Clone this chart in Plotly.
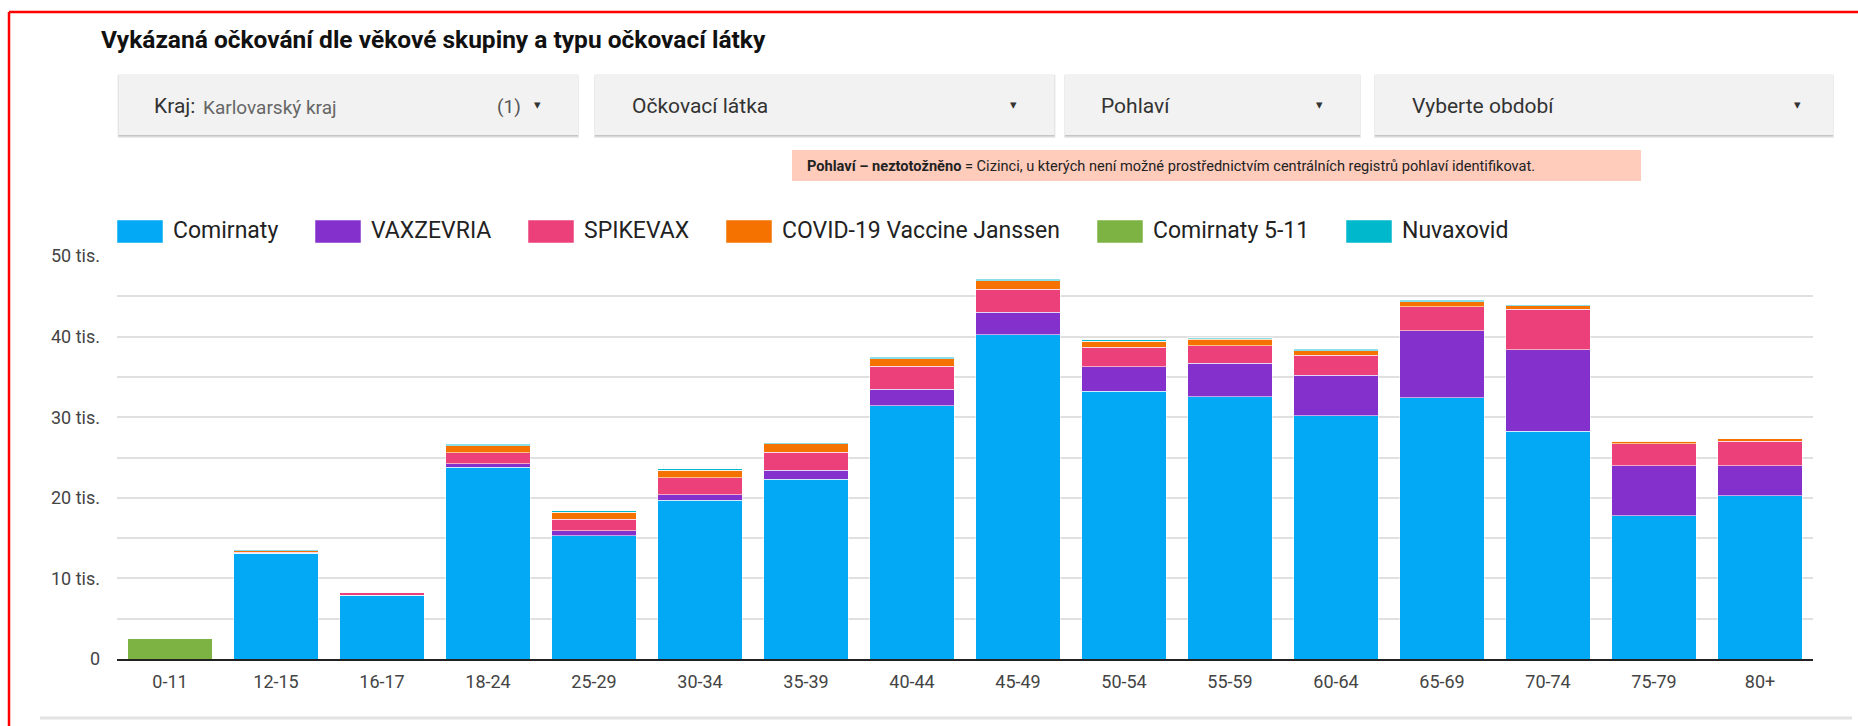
import plotly.graph_objects as go

W, H = 1858, 726

categories = ["0-11", "12-15", "16-17", "18-24", "25-29", "30-34", "35-39", "40-44",
              "45-49", "50-54", "55-59", "60-64", "65-69", "70-74", "75-79", "80+"]

comirnaty = [0, 13150, 7900, 23800, 15300, 19700, 22300, 31400, 40200, 33200, 32550, 30150, 32400, 28250, 17800, 20250]
vaxzevria = [0, 0, 0, 450, 600, 700, 1100, 2050, 2800, 3050, 4150, 5080, 8300, 10150, 6200, 3750]
spikevax = [0, 120, 300, 1350, 1450, 2100, 2250, 2900, 2850, 2450, 2150, 2470, 3000, 5000, 2700, 3000]
janssen = [0, 170, 30, 850, 850, 900, 1050, 900, 1100, 700, 800, 550, 600, 400, 300, 350]
comirnaty_5_11 = [2500, 0, 0, 0, 0, 0, 0, 0, 0, 0, 100, 0, 0, 0, 0, 0]
nuvaxovid = [0, 40, 0, 200, 170, 200, 150, 200, 150, 200, 100, 160, 200, 80, 0, 0]

series_names = ["Comirnaty", "VAXZEVRIA", "SPIKEVAX", "COVID-19 Vaccine Janssen", "Comirnaty 5-11", "Nuvaxovid"]
series_values = [comirnaty, vaxzevria, spikevax, janssen, comirnaty_5_11, nuvaxovid]
series_colors = ["#03a9f4", "#8430cc", "#ec407a", "#f57100", "#7cb342", "#00b8cc"]

y_tick_values = [0, 5000, 10000, 15000, 20000, 25000, 30000, 35000, 40000, 45000, 50000]
y_tick_labels = ["0", "", "10 tis.", "", "20 tis.", "", "30 tis.", "", "40 tis.", "", "50 tis."]

title_text = "Vykázaná očkování dle věkové skupiny a typu očkovací látky"
filters = [("Kraj:", "Karlovarský kraj", "(1)"), ("Očkovací látka", "", ""), ("Pohlaví", "", ""), ("Vyberte období", "", "")]
notice_bold = "Pohlaví – neztotožněno"
notice_rest = " = Cizinci, u kterých není možné prostřednictvím centrálních registrů pohlaví identifikovat."


def px(x):
    return x / W


def py(y):
    return 1 - y / H


fig = go.Figure()
for name, vals, col in zip(series_names, series_values, series_colors):
    fig.add_trace(go.Bar(
        x=categories, y=vals, name=name,
        marker=dict(color=col, line=dict(color="rgba(255,255,255,0.55)", width=1)),
        showlegend=False,
    ))

shapes = []
annotations = []
FONT = "Roboto"

# red outer border
shapes.append(dict(type="line", xref="paper", yref="paper", x0=px(9), x1=px(W + 5), y0=py(12), y1=py(12),
                   line=dict(color="#ff0000", width=2.5)))
shapes.append(dict(type="line", xref="paper", yref="paper", x0=px(9), x1=px(9), y0=py(12), y1=py(H + 5),
                   line=dict(color="#ff0000", width=2.5)))

# bottom separator line
shapes.append(dict(type="line", xref="paper", yref="paper", x0=px(40), x1=px(1852), y0=py(718), y1=py(718),
                   line=dict(color="#e2e2e2", width=3)))

# title
annotations.append(dict(xref="paper", yref="paper", x=px(99), y=py(39), xanchor="left", yanchor="middle",
                        text="<b>" + title_text + "</b>", showarrow=False,
                        font=dict(family=FONT, size=24.5, color="#111111")))

# dropdown filter boxes
boxes = [(118.5, 578), (595, 1054.5), (1065, 1360), (1375, 1833)]
box_y0, box_y1 = 74, 135
text_x = [154, 632, 1101, 1412]
arrow_x = [537, 1013, 1319, 1797]
for (x0, x1), tx, ax, (lab, sub, cnt) in zip(boxes, text_x, arrow_x, filters):
    shapes.append(dict(type="rect", xref="paper", yref="paper", x0=px(x0 - 1), x1=px(x1 + 1),
                       y0=py(box_y0 + 1), y1=py(box_y1 + 3), fillcolor="rgba(0,0,0,0.08)", line=dict(width=0)))
    shapes.append(dict(type="rect", xref="paper", yref="paper", x0=px(x0), x1=px(x1),
                       y0=py(box_y0 + 1), y1=py(box_y1 + 1.5), fillcolor="rgba(0,0,0,0.16)", line=dict(width=0)))
    shapes.append(dict(type="rect", xref="paper", yref="paper", x0=px(x0), x1=px(x1),
                       y0=py(box_y0), y1=py(box_y1), fillcolor="#f2f2f2", line=dict(width=0)))
    annotations.append(dict(xref="paper", yref="paper", x=px(tx - 2), y=py(106), xanchor="left", yanchor="middle",
                            text=lab, showarrow=False, font=dict(family=FONT, size=21, color="#333333")))
    annotations.append(dict(xref="paper", yref="paper", x=px(ax), y=py(105), xanchor="center", yanchor="middle",
                            text="▾", showarrow=False, font=dict(family="DejaVu Sans", size=13, color="#333333")))
    if sub:
        annotations.append(dict(xref="paper", yref="paper", x=px(201), y=py(107), xanchor="left", yanchor="middle",
                                text=sub, showarrow=False, font=dict(family=FONT, size=19, color="#666666")))
    if cnt:
        annotations.append(dict(xref="paper", yref="paper", x=px(495), y=py(106), xanchor="left", yanchor="middle",
                                text=cnt, showarrow=False, font=dict(family=FONT, size=19, color="#555555")))

# notice box
shapes.append(dict(type="rect", xref="paper", yref="paper", x0=px(792), x1=px(1641), y0=py(150), y1=py(181),
                   fillcolor="#ffcbbb", line=dict(width=0)))
annotations.append(dict(xref="paper", yref="paper", x=px(805), y=py(166.5), xanchor="left", yanchor="middle",
                        text="<b>" + notice_bold + "</b>" + notice_rest, showarrow=False,
                        font=dict(family=FONT, size=14.6, color="#222222")))

# custom legend
legend_x = [117, 315, 528, 726, 1097, 1346]
for lx, name, col in zip(legend_x, series_names, series_colors):
    shapes.append(dict(type="rect", xref="paper", yref="paper", x0=px(lx), x1=px(lx + 46), y0=py(220), y1=py(243),
                       fillcolor=col, line=dict(color="rgba(255,255,255,0.5)", width=1)))
    annotations.append(dict(xref="paper", yref="paper", x=px(lx + 54), y=py(231), xanchor="left", yanchor="middle",
                            text=name, showarrow=False, font=dict(family=FONT, size=23, color="#222222")))

fig.update_layout(
    template="none",
    width=W, height=H, autosize=False,
    margin=dict(l=0, r=0, t=0, b=0, pad=0, autoexpand=False),
    paper_bgcolor="white", plot_bgcolor="white",
    barmode="stack", bargap=0.2,
    shapes=shapes, annotations=annotations,
    font=dict(family=FONT),
    xaxis=dict(domain=[px(117), px(1813)], showline=True, linecolor="#222222", linewidth=1.5,
               showgrid=False, tickfont=dict(family=FONT, size=18, color="#444444"),
               ticks="", ticklabelstandoff=6, automargin=False),
    yaxis=dict(domain=[py(659), py(256)], range=[0, 50000], tickvals=y_tick_values, ticktext=y_tick_labels,
               showgrid=True, gridcolor="#e0e0e0", gridwidth=2, zeroline=False, showline=False, ticks="",
               tickfont=dict(family=FONT, size=18, color="#444444"), ticklabelstandoff=16, automargin=False),
)

fig.write_html("out.html", config={"displayModeBar": False},
               post_script="document.body.style.margin='0';document.body.style.overflow='hidden';")
